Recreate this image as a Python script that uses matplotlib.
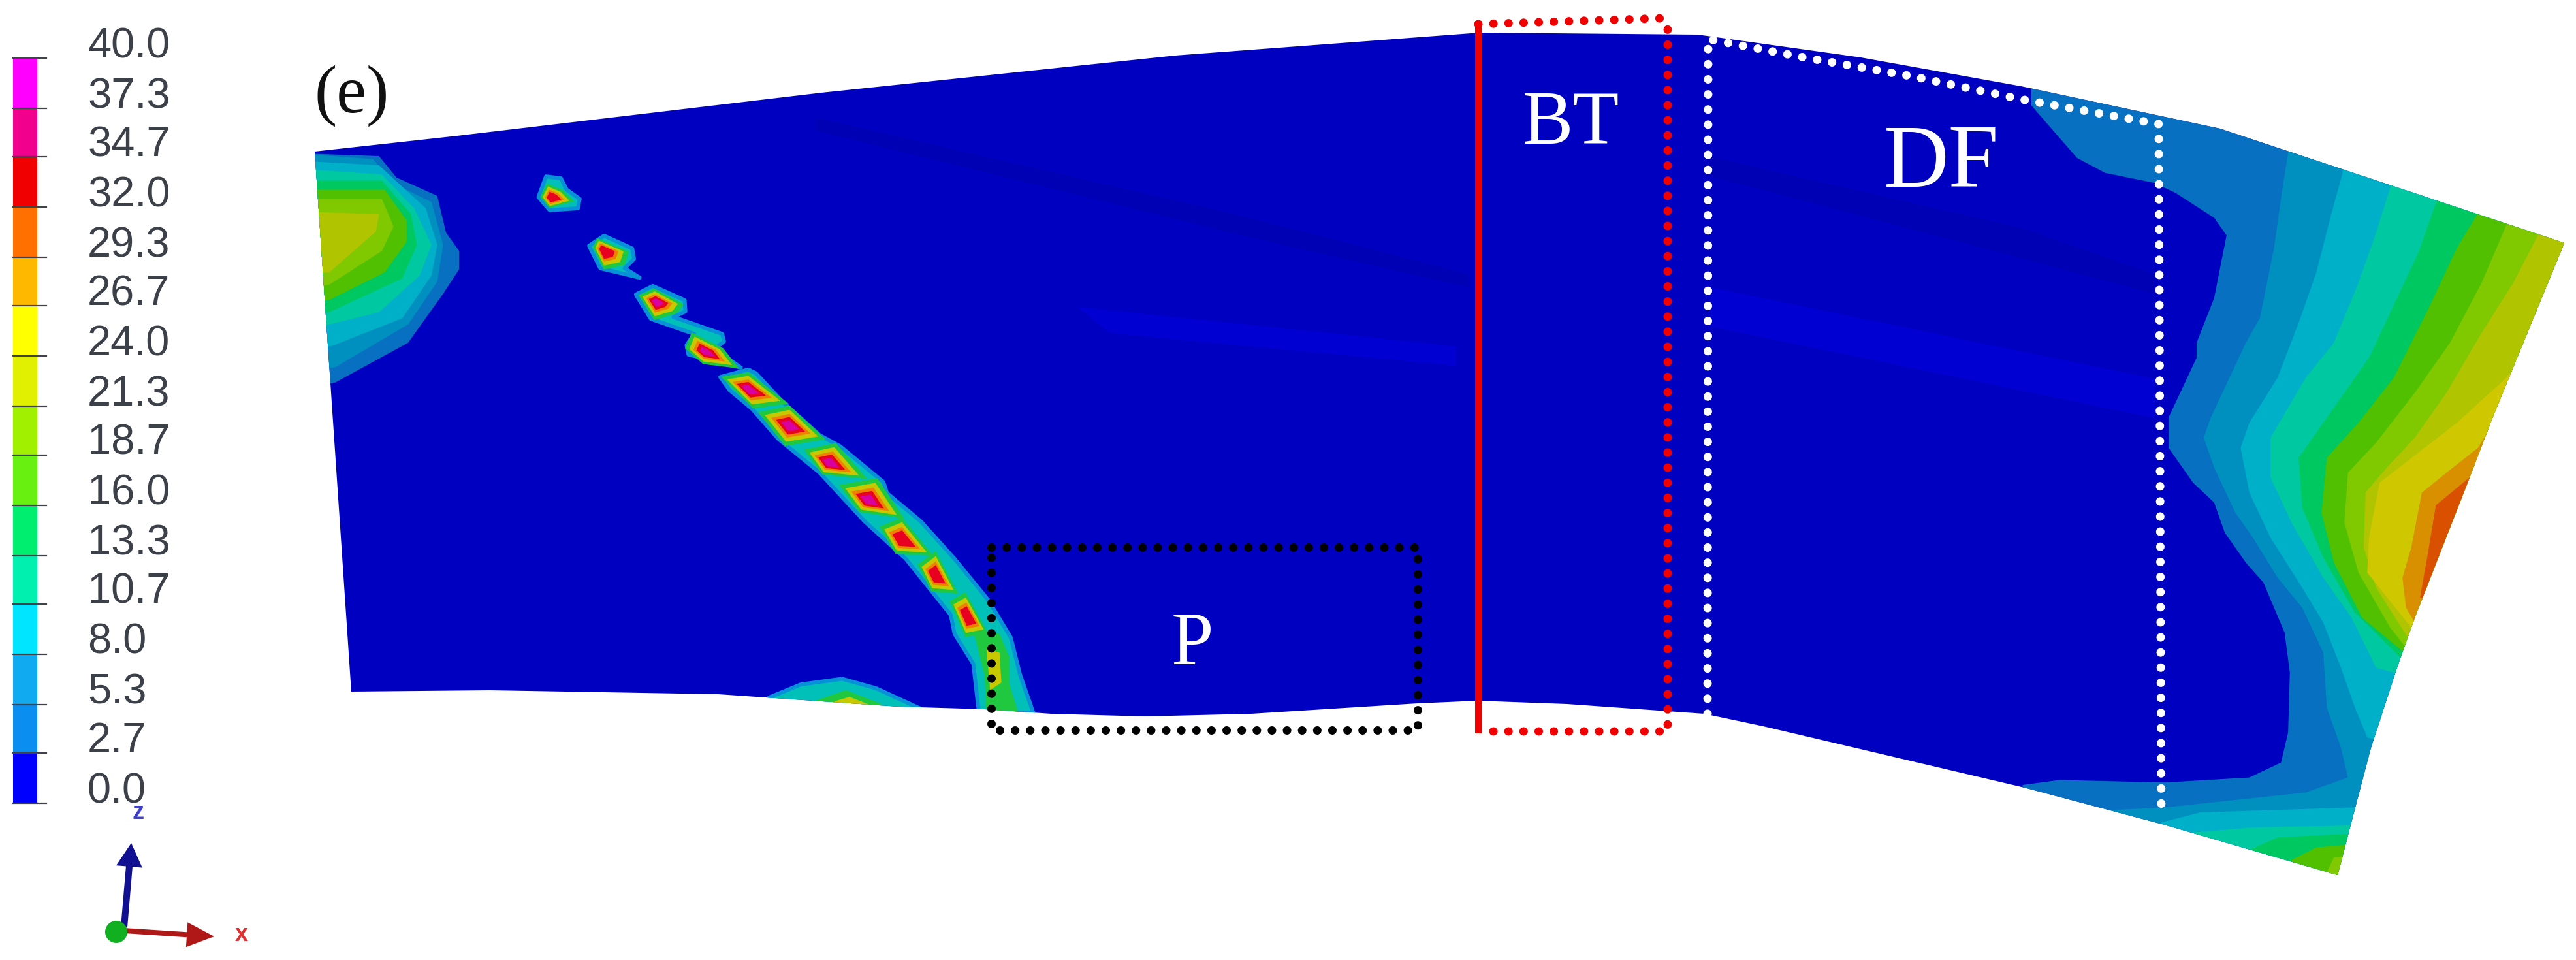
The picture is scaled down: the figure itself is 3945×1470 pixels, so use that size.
import matplotlib
matplotlib.use("Agg")
import matplotlib.pyplot as plt
from matplotlib.patches import Polygon, FancyArrow, Ellipse

# ---------- colour scale ----------
TICK_VALUES = [40.0, 37.3, 34.7, 32.0, 29.3, 26.7, 24.0, 21.3, 18.7, 16.0, 13.3, 10.7, 8.0, 5.3, 2.7, 0.0]
BAND_COLORS = ["#ff00ff", "#f0008c", "#f00000", "#ff7000", "#ffb800", "#ffff00", "#e0f000", "#a0f000",
               "#68f010", "#00ee70", "#00f0b0", "#00e5ff", "#10aaf0", "#0a8ef0", "#0000ff"]
MODEL_COLORS = ["#0000c0", "#0870c0", "#0090c0", "#00b0c8", "#00c8a0", "#00c860", "#50c000", "#80c800",
                "#b0c400", "#cfc800", "#d89000", "#d85000"]

# ---------- model outline (image pixels) ----------
OUTLINE = [(482, 232), (700, 208), (1258, 142), (1800, 85), (2266, 50), (2600, 53), (2850, 88), (3095, 132), (3400, 197),
           (3927, 372), (3817, 640), (3779, 739), (3698, 946), (3671, 1022), (3631, 1145), (3601, 1259), (3580, 1340),
           (3315, 1263), (3100, 1206), (2700, 1112), (2610, 1093), (2400, 1078), (2263, 1073), (2171, 1077),
           (1916, 1093), (1753, 1097), (1610, 1093), (1508, 1086), (1375, 1082), (1100, 1063), (750, 1057), (538, 1059)]

# ---------- faint shading streaks in the low-value area (image pixels) ----------
STREAKS = [
    ("#0000d2", [(1650, 470), (2230, 530), (2230, 560), (1700, 510)]),
    ("#0000d2", [(2620, 440), (3300, 580), (3300, 640), (2620, 500)]),
    ("#0000b4", [(1250, 180), (1900, 330), (2250, 420), (2250, 440), (1900, 360), (1250, 200)]),
    ("#0000b4", [(2620, 240), (3100, 350), (3300, 420), (3300, 450), (3000, 370), (2620, 270)]),
]

# ---------- right-hand contour bands (lowest level first) ----------
RIGHT_BANDS = [
    (1, [(20, -40), (20, 15), (150, 120), (230, 150), (370, 170), (430, 190), (540, 240), (575, 275), (540, 400), (490, 490),
         (490, 520), (410, 640), (410, 700), (480, 770), (540, 810), (570, 870), (630, 930), (680, 970), (740, 1070),
         (755, 1150), (750, 1270), (730, 1330), (640, 1360), (400, 1370), (100, 1365), (-5, 1375), (-5, 1700), (1700, 1700), (1700, -40)]),
    (2, [(750, -40), (750, 110), (730, 200), (710, 300), (670, 440), (630, 490), (530, 640), (510, 680), (540, 740), (600, 830),
         (650, 880), (720, 960), (790, 1020), (850, 1110), (860, 1220), (900, 1300), (920, 1360), (800, 1390), (400, 1420),
         (250, 1425), (250, 1700), (1700, 1700), (1700, -40)]),
    (3, [(905, -40), (905, 150), (870, 240), (830, 350), (780, 450), (720, 560), (640, 650), (615, 700), (640, 790), (700, 880),
         (790, 980), (850, 1050), (900, 1140), (940, 1220), (975, 1280), (1100, 1300), (1700, 1300), (1700, -40)]),
    (3, [(390, 1450), (500, 1430), (930, 1420), (1000, 1420), (1000, 1700), (390, 1700)]),
    (4, [(1040, -40), (1040, 180), (1000, 270), (950, 370), (880, 490), (800, 560), (700, 680), (700, 760), (760, 850),
         (850, 960), (930, 1040), (1000, 1140), (1100, 1160), (1700, 1160), (1700, -40)]),
    (4, [(480, 1470), (650, 1460), (1000, 1455), (1000, 1700), (480, 1700)]),
    (5, [(1170, -40), (1170, 210), (1120, 310), (1060, 400), (980, 520), (880, 620), (780, 720), (790, 820), (850, 920),
         (940, 1030), (1070, 1120), (1700, 1120), (1700, -40)]),
    (5, [(640, 1505), (720, 1480), (1000, 1470), (1000, 1700), (640, 1700)]),
    (6, [(1290, -40), (1290, 230), (1230, 300), (1150, 420), (1050, 560), (950, 650), (860, 720), (845, 830), (880, 930),
         (960, 1040), (1080, 1110), (1700, 1110), (1700, -40)]),
    (6, [(760, 1525), (830, 1500), (1000, 1490), (1000, 1700), (760, 1700)]),
    (7, [(1370, -40), (1370, 255), (1300, 370), (1210, 490), (1110, 590), (1000, 690), (920, 750), (910, 850), (950, 950),
         (1040, 1060), (1085, 1100), (1700, 1100), (1700, -40)]),
    (7, [(860, 1550), (880, 1520), (1000, 1510), (1000, 1700), (860, 1700)]),
    (8, [(1460, -40), (1460, 275), (1390, 370), (1300, 470), (1200, 590), (1110, 680), (1030, 740), (970, 790), (965, 900),
         (1000, 980), (1090, 1080), (1700, 1080), (1700, -40)]),
    (9, [(1700, 400), (1480, 470), (1370, 560), (1230, 650), (1120, 710), (1010, 770), (980, 880), (975, 950), (1100, 1060), (1700, 1060)]),
    (10, [(1700, 640), (1340, 640), (1290, 700), (1200, 750), (1130, 790), (1100, 900), (1075, 960), (1085, 1020), (1110, 1050), (1700, 1050)]),
    (11, [(1700, 760), (1265, 760), (1170, 815), (1150, 900), (1125, 1000), (1200, 1000), (1700, 1000)]),
]

# ---------- left-edge blob ----------
LEFT_BLOB = [
    (1, [(1000, 250), (1300, 255), (1360, 290), (1500, 320), (1530, 380), (1575, 410), (1575, 440), (1520, 480), (1400, 560), (1150, 625), (1000, 640)]),
    (2, [(1000, 250), (1280, 260), (1350, 300), (1480, 330), (1520, 400), (1500, 460), (1400, 530), (1150, 600), (1000, 610)]),
    (3, [(1000, 262), (1300, 270), (1460, 340), (1500, 400), (1480, 450), (1380, 520), (1140, 565), (1000, 575)]),
    (4, [(1000, 275), (1310, 285), (1420, 340), (1480, 400), (1440, 450), (1300, 510), (1130, 530), (1000, 540)]),
    (5, [(1000, 295), (1310, 295), (1410, 350), (1430, 400), (1380, 455), (1130, 510), (1000, 520)]),
    (6, [(1000, 310), (1320, 310), (1395, 360), (1395, 395), (1320, 445), (1130, 490), (1000, 500)]),
    (7, [(1000, 325), (1310, 325), (1350, 370), (1310, 410), (1130, 465), (1000, 475)]),
    (8, [(1000, 345), (1300, 350), (1290, 378), (1130, 445), (1000, 450)]),
]

# ---------- crack of hot spots ----------
CRACK_TEAL = [
    [(150, 70), (190, 75), (205, 105), (240, 130), (235, 155), (160, 160), (130, 125)],
    [(265, 255), (305, 228), (380, 262), (385, 290), (360, 315), (400, 340), (295, 315)],
    [(390, 385), (435, 362), (520, 400), (522, 430), (490, 445), (620, 490), (625, 510), (600, 530), (670, 580), (530, 545), (525, 520), (545, 490), (430, 450)],
    [(615, 605), (690, 585), (710, 595), (780, 670), (880, 760), (935, 790), (1050, 885), (1060, 915), (1150, 990), (1240, 1090), (1330, 1200), (1390, 1300),
     (1415, 1400), (1450, 1500), (1305, 1500), (1290, 1370), (1240, 1290), (1230, 1240), (1110, 1090), (1000, 990), (880, 860), (770, 770), (700, 690), (640, 640)],
    [(745, 1460), (830, 1425), (940, 1410), (1030, 1435), (1150, 1490), (745, 1490)],
]
CRACK_GREEN = [
    [(1290, 1280), (1360, 1290), (1385, 1350), (1385, 1420), (1410, 1500), (1325, 1500), (1320, 1400)],
    [(850, 1475), (950, 1440), (1040, 1475), (1060, 1490), (850, 1490)],
]
CRACK_YELLOW = [
    [(1325, 1330), (1360, 1340), (1365, 1420), (1335, 1440)],
    [(920, 1470), (960, 1458), (1010, 1478), (1010, 1490), (920, 1490)],
]
SPOT_CENTERS = [(165, 128), (305, 268), (445, 405), (575, 538), (690, 638), (800, 735), (905, 835), (1010, 935), (1100, 1040), (1190, 1135), (1275, 1245)]
SPOT_SHAPES = [
    [(155, 95), (190, 110), (215, 135), (160, 150), (140, 125)],
    [(290, 240), (360, 270), (350, 300), (305, 310), (280, 260)],
    [(405, 390), (440, 375), (505, 410), (490, 430), (440, 445)],
    [(545, 495), (615, 530), (650, 575), (570, 565), (530, 530)],
    [(630, 610), (690, 600), (780, 670), (700, 680)],
    [(730, 705), (800, 690), (880, 765), (790, 780)],
    [(850, 805), (920, 790), (990, 870), (890, 860)],
    [(945, 900), (1030, 885), (1090, 975), (990, 960)],
    [(1050, 1010), (1100, 990), (1170, 1075), (1085, 1070)],
    [(1150, 1110), (1190, 1080), (1240, 1175), (1180, 1170)],
    [(1235, 1210), (1270, 1190), (1320, 1280), (1270, 1290)],
]
SPOT_HAS_MAGENTA = [False, False, True, True, True, True, True, True, False, False, False]
SPOT_COLORS = ["#20c840", "#c8c800", "#f08000", "#e80020", "#d800a0"]
SPOT_SCALES = [1.2, 0.95, 0.7, 0.52, 0.32]
TEAL = "#00c0b8"
TEAL_EDGE = "#0890d8"

# ---------- annotation boxes ----------
BLACK_BOX = [(1518, 838), (2171, 838), (2171, 1118), (1518, 1118), (1518, 838)]
RED_LEFT = [(2264, 37), (2264, 1118)]
RED_REST = [(2264, 37), (2545, 28), (2554, 45), (2554, 1120), (2270, 1120)]
WHITE_PATH = [(2615, 1093), (2616, 60), (2763, 88), (2929, 117), (3095, 152), (3306, 190), (3310, 1252)]


def crop2(pts):
    return [(3100 + x / 1.856, 150 + y / 1.307) for x, y in pts]


def crop1(pts):
    return [(x / 2.24, y / 1.067) for x, y in pts]


def crop3(pts):
    return [(750 + x / 1.742, 230 + y / 1.742) for x, y in pts]


plt.rcParams["font.family"] = ["Liberation Sans", "DejaVu Sans"]
fig = plt.figure(figsize=(39.45, 14.7), dpi=100)
ax = fig.add_axes([0, 0, 1, 1])
ax.set_xlim(0, 3945)
ax.set_ylim(1470, 0)
ax.axis("off")


def y_of(v):
    return 1230 - v / 40.0 * (1230 - 89)


def px(p):
    return p * 72 / 100


# colour bar
for i, c in enumerate(BAND_COLORS):
    top, bot = y_of(TICK_VALUES[i]), y_of(TICK_VALUES[i + 1])
    ax.fill([20, 57, 57, 20], [top, top, bot, bot], color=c, lw=0, zorder=2)
for v in TICK_VALUES:
    y = y_of(v)
    ax.plot([20, 71], [y, y], color="#404448", lw=1.6, zorder=3)
    ax.text(134, y - 1, f"{v:.1f}", fontsize=px(65), color="#3c4048", ha="left", va="baseline", zorder=4)

# model
clip = Polygon(OUTLINE, closed=True, transform=ax.transData)
ax.add_patch(Polygon(OUTLINE, closed=True, facecolor=MODEL_COLORS[0], edgecolor=MODEL_COLORS[0], lw=0, zorder=1))


def fill(pts, color, z=2, edge=None):
    xs, ys = zip(*pts)
    if edge is None:
        artists = ax.fill(xs, ys, color=color, lw=0, zorder=z)
    else:
        artists = ax.fill(xs, ys, facecolor=color, edgecolor=edge, lw=px(6), joinstyle="round", zorder=z)
    for a in artists:
        a.set_clip_path(clip)


for c, pts in STREAKS:
    fill(pts, c, z=1.5)
for lev, pts in RIGHT_BANDS:
    fill(crop2(pts), MODEL_COLORS[lev])
for lev, pts in LEFT_BLOB:
    fill(crop1(pts), MODEL_COLORS[lev])

for pts in CRACK_TEAL:
    fill(crop3(pts), TEAL, edge=TEAL_EDGE)
for pts in CRACK_GREEN:
    fill(crop3(pts), SPOT_COLORS[0])
for pts in CRACK_YELLOW:
    fill(crop3(pts), SPOT_COLORS[1])
for center, shape, mag in zip(SPOT_CENTERS, SPOT_SHAPES, SPOT_HAS_MAGENTA):
    n = 5 if mag else 4
    for c, s in list(zip(SPOT_COLORS, SPOT_SCALES))[:n]:
        pts = [(center[0] + (x - center[0]) * s, center[1] + (y - center[1]) * s) for x, y in shape]
        fill(crop3(pts), c, z=3)


def dotted(pts, color, dia=13, gap=23, z=6):
    xs, ys = zip(*pts)
    w = px(dia)
    ax.plot(xs, ys, color=color, lw=w, dashes=(0.01, gap / dia), dash_capstyle="round", zorder=z)


dotted(BLACK_BOX, "#000000")
xs, ys = zip(*RED_LEFT)
ax.plot(xs, ys, color="#f00000", lw=px(10), zorder=6)
dotted(RED_REST, "#f00000")
dotted(WHITE_PATH, "#ffffff")

# annotations
serif = ["Liberation Serif", "DejaVu Serif"]
ax.text(482, 172, "(e)", fontsize=px(103), family=serif, color="#111111", ha="left", va="baseline", zorder=7)
ax.text(2332, 220, "BT", fontsize=px(116), family=serif, color="white", ha="left", va="baseline", zorder=7)
ax.text(2884, 286, "DF", fontsize=px(138), family=serif, color="white", ha="left", va="baseline", zorder=7)
ax.text(1794, 1017, "P", fontsize=px(116), family=serif, color="white", ha="left", va="baseline", zorder=7)

# triad
ax.add_patch(FancyArrow(190, 1420, 11, -129, width=10, head_width=40, head_length=36, length_includes_head=True,
                        color="#101090", lw=0, zorder=4))
ax.add_patch(FancyArrow(190, 1425, 138, 9, width=8, head_width=38, head_length=42, length_includes_head=True,
                        color="#b01818", lw=0, zorder=4))
ax.add_patch(Ellipse((178, 1427), 34, 34, color="#10b020", lw=0, zorder=5))
ax.text(212, 1254, "z", fontsize=px(36), color="#4040d0", weight="bold", ha="center", va="baseline", zorder=5)
ax.text(370, 1441, "x", fontsize=px(36), color="#e03030", weight="bold", ha="center", va="baseline", zorder=5)

fig.savefig("out.png", dpi=100, facecolor="white")
